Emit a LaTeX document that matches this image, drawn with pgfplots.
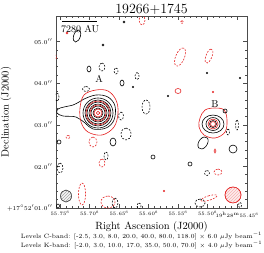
\documentclass[border=0pt]{standalone}
\usepackage{pgfplots}
\pgfplotsset{compat=1.18}
\usetikzlibrary{patterns}
\definecolor{cred}{RGB}{228,32,32}
\pgfplotsset{
  K/.style={black, line width=0.6pt, smooth cycle, tension=1, mark=none, forget plot},
  Kd/.style={K, dash pattern=on 1.8pt off 1.4pt},
  R/.style={cred, line width=0.6pt, smooth cycle, tension=1, mark=none, forget plot},
  Rd/.style={R, dash pattern=on 1.8pt off 1.4pt},
}
\begin{document}
\begin{tikzpicture}
\begin{axis}[
  name=ax, scale only axis, width=191pt, height=192pt,
  x dir=reverse, xmin=55.4333, xmax=55.757, ymin=1.0, ymax=5.616,
  xtick={55.75,55.70,55.65,55.60,55.55,55.50,55.45},
  xticklabels={$55.75^{\mathrm s}$,$55.70^{\mathrm s}$,$55.65^{\mathrm s}$,$55.60^{\mathrm s}$,$55.55^{\mathrm s}$,$55.50^{\mathrm s}$,$19^{\mathrm h}28^{\mathrm m}55.45^{\mathrm s}$},
  ytick={1,2,3,4,5},
  yticklabels={$+17^{\circ}52'01.0''$,$02.0''$,$03.0''$,$04.0''$,$05.0''$},
  minor x tick num=4, minor y tick num=4,
  yticklabel style={font=\fontsize{6}{7}\selectfont},
  xticklabel style={font=\fontsize{5.4}{6}\selectfont},
  major tick length=4pt, minor tick length=2pt,
  axis line style={black!70, line width=0.6pt},
  every tick/.style={black!70, line width=0.5pt},
  clip=true,
]
% ---- beams
\addplot[draw=black!70, line width=0.5pt, fill=gray!8, smooth cycle, tension=1, postaction={pattern=north east lines, pattern color=gray!70}, forget plot]
  coordinates {(55.7493,1.288)(55.7400,1.432)(55.7307,1.288)(55.7400,1.144)};
\addplot[draw=cred, line width=0.5pt, fill=cred!8, smooth cycle, tension=1, postaction={pattern=north east lines, pattern color=cred!35}, forget plot]
  coordinates {(55.4706,1.313)(55.4570,1.505)(55.4434,1.313)(55.4570,1.121)};
% ---- source A, black (C-band)
\addplot[K, tension=0.6] coordinates {(55.7095,3.620)(55.6892,3.717)(55.6689,3.668)(55.6570,3.452)(55.6587,3.116)(55.6722,2.923)(55.6943,2.899)(55.7078,3.043)(55.7231,3.188)(55.7451,3.212)(55.7553,3.284)(55.7536,3.380)(55.7434,3.428)(55.7282,3.476)(55.7180,3.548)};
\addplot[K] coordinates {(55.7112,3.284)(55.6858,3.645)(55.6604,3.284)(55.6858,2.923)};
\addplot[K] coordinates {(55.7078,3.284)(55.6858,3.597)(55.6638,3.284)(55.6858,2.971)};
\addplot[K] coordinates {(55.7044,3.284)(55.6858,3.548)(55.6672,3.284)(55.6858,3.020)};
\addplot[K] coordinates {(55.7011,3.284)(55.6858,3.500)(55.6705,3.284)(55.6858,3.068)};
\addplot[K] coordinates {(55.6977,3.284)(55.6858,3.452)(55.6739,3.284)(55.6858,3.116)};
\addplot[K] coordinates {(55.6943,3.284)(55.6858,3.404)(55.6773,3.284)(55.6858,3.164)};
% ---- source A, red (K-band)
\addplot[R, tension=0.6] coordinates {(55.7163,3.404)(55.7095,3.717)(55.6892,3.837)(55.6689,3.813)(55.6553,3.596)(55.6519,3.284)(55.6587,2.947)(55.6790,2.755)(55.7028,2.827)(55.7146,3.067)};
\addplot[R] coordinates {(55.7061,3.284)(55.6858,3.572)(55.6655,3.284)(55.6858,2.996)};
\addplot[R] coordinates {(55.6994,3.284)(55.6858,3.476)(55.6722,3.284)(55.6858,3.092)};
\addplot[R] coordinates {(55.6926,3.284)(55.6858,3.380)(55.6790,3.284)(55.6858,3.188)};
\addplot[R] coordinates {(55.6889,3.284)(55.6858,3.327)(55.6827,3.284)(55.6858,3.241)};
% ---- source B
\addplot[K] coordinates {(55.5095,3.019)(55.4909,3.235)(55.4723,3.019)(55.4909,2.803)};
\addplot[K] coordinates {(55.5028,3.019)(55.4909,3.175)(55.4790,3.019)(55.4909,2.863)};
\addplot[K] coordinates {(55.4968,3.019)(55.4909,3.103)(55.4850,3.019)(55.4909,2.935)};
\addplot[R, tension=0.6] coordinates {(55.5129,3.164)(55.5044,3.356)(55.4875,3.404)(55.4722,3.356)(55.4672,3.116)(55.4705,2.827)(55.4875,2.683)(55.5061,2.755)(55.5146,2.947)};
\addplot[R] coordinates {(55.4994,3.019)(55.4909,3.139)(55.4824,3.019)(55.4909,2.899)};
\addplot[R] coordinates {(55.4951,3.019)(55.4909,3.079)(55.4867,3.019)(55.4909,2.959)};
% ---- small black contours
\addplot[K] coordinates {(55.7273,5.135)(55.7190,5.279)(55.7155,5.135)(55.7238,4.991)};
\addplot[K] coordinates {(55.6434,5.471)(55.6417,5.495)(55.6400,5.471)(55.6417,5.447)};
\addplot[K] coordinates {(55.6790,4.919)(55.6773,4.943)(55.6756,4.919)(55.6773,4.895)};
\addplot[K] coordinates {(55.7045,4.342)(55.7011,4.414)(55.6977,4.342)(55.7011,4.270)};
\addplot[Kd] coordinates {(55.6841,4.390)(55.6790,4.486)(55.6739,4.390)(55.6790,4.294)};
\addplot[Kd] coordinates {(55.6587,4.293)(55.6553,4.365)(55.6519,4.293)(55.6553,4.221)};
\addplot[K] coordinates {(55.6485,4.005)(55.6451,4.077)(55.6417,4.005)(55.6451,3.933)};
\addplot[Kd] coordinates {(55.6231,4.173)(55.6197,4.257)(55.6163,4.173)(55.6197,4.089)};
\addplot[K] coordinates {(55.6277,3.909)(55.6265,3.926)(55.6253,3.909)(55.6265,3.892)};
\addplot[K] coordinates {(55.5023,4.245)(55.5011,4.262)(55.4999,4.245)(55.5011,4.228)};
\addplot[K] coordinates {(55.4463,4.125)(55.4451,4.142)(55.4439,4.125)(55.4451,4.108)};
\addplot[Kd] coordinates {(55.7121,3.861)(55.7062,3.921)(55.7003,3.861)(55.7062,3.801)};
\addplot[Kd] coordinates {(55.6112,3.428)(55.6044,3.596)(55.5976,3.428)(55.6044,3.260)};
\addplot[Kd] coordinates {(55.7587,3.668)(55.7553,3.764)(55.7519,3.668)(55.7553,3.572)};
\addplot[Kd] coordinates {(55.6510,3.212)(55.6468,3.308)(55.6426,3.212)(55.6468,3.116)};
\addplot[K] coordinates {(55.5684,3.692)(55.5672,3.709)(55.5660,3.692)(55.5672,3.675)};
\addplot[K] coordinates {(55.4739,3.332)(55.4705,3.380)(55.4671,3.332)(55.4705,3.284)};
\addplot[Kd] coordinates {(55.4527,2.995)(55.4502,3.115)(55.4477,2.995)(55.4502,2.875)};
\addplot[Kd] coordinates {(55.4680,2.827)(55.4655,2.899)(55.4630,2.827)(55.4655,2.755)};
\addplot[K] coordinates {(55.7553,2.587)(55.7519,2.635)(55.7485,2.587)(55.7519,2.539)};
\addplot[K] coordinates {(55.6655,2.587)(55.6604,2.683)(55.6553,2.587)(55.6604,2.491)};
\addplot[Kd] coordinates {(55.6468,2.779)(55.6383,2.923)(55.6298,2.779)(55.6383,2.635)};
\addplot[Kd] coordinates {(55.6756,2.250)(55.6722,2.346)(55.6688,2.250)(55.6722,2.154)};
\addplot[Kd] coordinates {(55.7553,1.962)(55.7502,2.082)(55.7451,1.962)(55.7502,1.842)};
\addplot[K] coordinates {(55.5960,2.226)(55.5926,2.274)(55.5892,2.226)(55.5926,2.178)};
\addplot[K] coordinates {(55.5333,2.058)(55.5299,2.106)(55.5265,2.058)(55.5299,2.010)};
\addplot[K] coordinates {(55.5163,2.540)(55.5060,2.707)(55.4993,2.590)(55.5096,2.419)};
\addplot[K] coordinates {(55.4638,2.418)(55.4570,2.514)(55.4502,2.418)(55.4570,2.322)};
\addplot[Kd] coordinates {(55.5053,1.841)(55.5011,1.901)(55.4969,1.841)(55.5011,1.781)};
\addplot[Kd] coordinates {(55.6621,1.120)(55.6570,1.240)(55.6519,1.120)(55.6570,1.000)};
\addplot[Kd] coordinates {(55.6197,1.048)(55.6163,1.120)(55.6129,1.048)(55.6163,0.976)};
\addplot[Kd] coordinates {(55.5214,1.120)(55.5129,1.216)(55.5044,1.120)(55.5129,1.024)};
\addplot[Kd] coordinates {(55.4476,1.072)(55.4451,1.132)(55.4426,1.072)(55.4451,1.012)};
\addplot[K] coordinates {(55.7561,1.048)(55.7536,1.096)(55.7511,1.048)(55.7536,1.000)};
% ---- small red contours
\addplot[R] coordinates {(55.7401,5.207)(55.7384,5.231)(55.7367,5.207)(55.7384,5.183)};
\addplot[Rd] coordinates {(55.6163,5.520)(55.6112,5.640)(55.6061,5.520)(55.6112,5.400)};
\addplot[Rd] coordinates {(55.5459,5.471)(55.5434,5.507)(55.5409,5.471)(55.5434,5.435)};
\addplot[Rd] coordinates {(55.5553,4.600)(55.5430,4.846)(55.5383,4.660)(55.5506,4.414)};
\addplot[Rd] coordinates {(55.5036,4.630)(55.4947,4.822)(55.4918,4.678)(55.5007,4.486)};
\addplot[R] coordinates {(55.5553,3.813)(55.5502,3.873)(55.5451,3.813)(55.5502,3.753)};
\addplot[R] coordinates {(55.4921,3.789)(55.4909,3.806)(55.4897,3.789)(55.4909,3.772)};
\addplot[Rd] coordinates {(55.7401,2.707)(55.7367,2.743)(55.7333,2.707)(55.7367,2.671)};
\addplot[Rd] coordinates {(55.7011,2.587)(55.6943,2.707)(55.6875,2.587)(55.6943,2.467)};
\addplot[Rd] coordinates {(55.6841,2.082)(55.6790,2.178)(55.6739,2.082)(55.6790,1.986)};
\addplot[R] coordinates {(55.4892,2.370)(55.4875,2.418)(55.4858,2.370)(55.4875,2.322)};
\addplot[Rd] coordinates {(55.4892,1.865)(55.4824,1.937)(55.4756,1.865)(55.4824,1.793)};
\addplot[Rd] coordinates {(55.7189,1.337)(55.7129,1.601)(55.7069,1.337)(55.7129,1.073)};
\addplot[Rd] coordinates {(55.6808,1.144)(55.6689,1.288)(55.6570,1.144)(55.6689,1.000)};
\addplot[R] coordinates {(55.5752,1.409)(55.5740,1.426)(55.5728,1.409)(55.5740,1.392)};
\addplot[Rd] coordinates {(55.5113,1.180)(55.4990,1.290)(55.4841,1.300)(55.4964,1.190)};
\addplot[Rd] coordinates {(55.7612,4.630)(55.7587,4.690)(55.7562,4.630)(55.7587,4.570)};
% ---- labels
\node[font=\fontsize{10}{12}\selectfont] at (axis cs:55.6841,4.101) {A};
\node[font=\fontsize{10}{12}\selectfont] at (axis cs:55.4875,3.500) {B};
\draw[line width=1pt] (axis description cs:0.031,0.969) -- (axis description cs:0.215,0.969);
\node[font=\fontsize{10}{12}\selectfont, inner sep=0pt] at (axis description cs:0.126,0.930) {7280 AU};
\end{axis}
\node[font=\fontsize{14}{16}\selectfont, anchor=base, inner sep=0pt] at ([yshift=3pt]ax.north) {19266+1745};
\node[font=\fontsize{10.5}{12}\selectfont, anchor=base, inner sep=0pt] at ([yshift=-21pt]ax.south) {Right Ascension (J2000)};
\node[font=\fontsize{10.5}{12}\selectfont, rotate=90, inner sep=0pt] at ([xshift=-50pt]ax.west) {Declination (J2000)};
\node[font=\fontsize{6.2}{7}\selectfont, anchor=base, inner sep=0pt] at ([xshift=-10pt,yshift=-30pt]ax.south) {Levels C-band: [-2.5, 3.0, 8.0, 20.0, 40.0, 80.0, 118.0] $\times$ 6.0 $\mu$Jy beam$^{-1}$};
\node[font=\fontsize{6.2}{7}\selectfont, anchor=base, inner sep=0pt] at ([xshift=-10pt,yshift=-39pt]ax.south) {Levels K-band: [-2.0, 3.0, 10.0, 17.0, 35.0, 50.0, 70.0] $\times$ 4.0 $\mu$Jy beam$^{-1}$};
\pgfresetboundingbox
\path ([shift={(-56pt,-44pt)}]ax.south west) rectangle ([shift={(208pt,208pt)}]ax.south west);
\end{tikzpicture}
\end{document}
